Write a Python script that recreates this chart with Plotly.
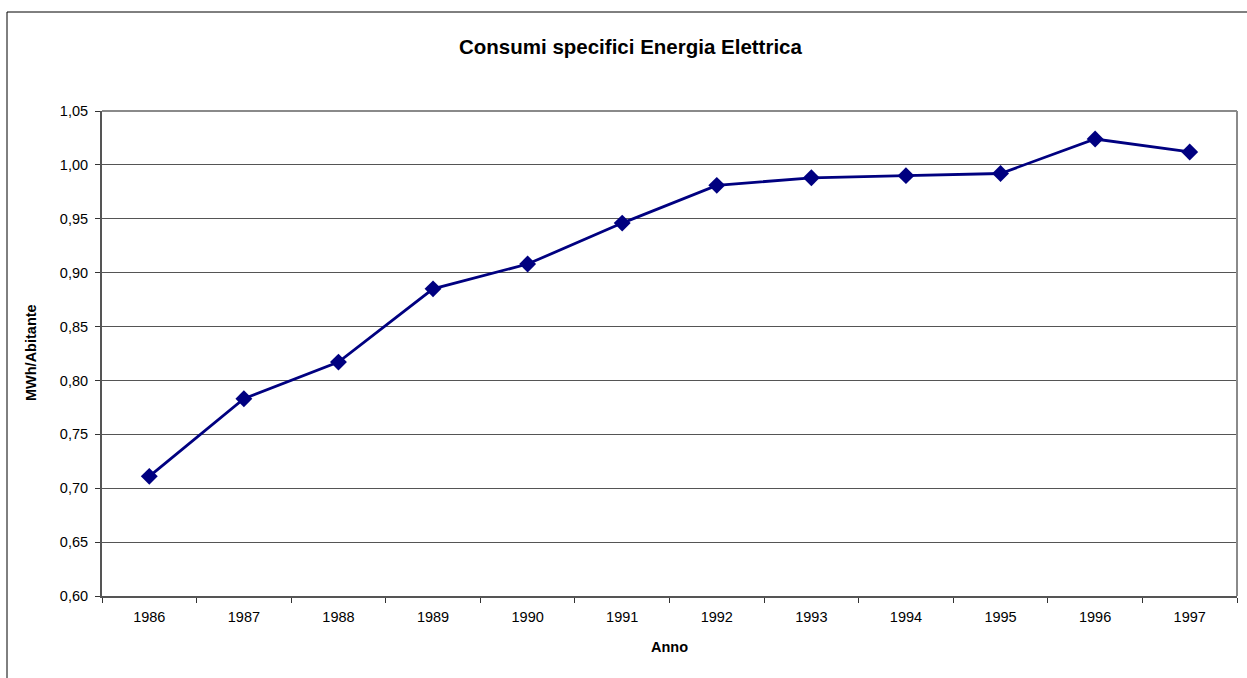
import plotly.graph_objects as go

# Annual specific electricity consumption (MWh per inhabitant)
anni = ["1986", "1987", "1988", "1989", "1990", "1991",
        "1992", "1993", "1994", "1995", "1996", "1997"]
consumi = [0.711, 0.783, 0.817, 0.885, 0.908, 0.946,
           0.981, 0.988, 0.990, 0.992, 1.024, 1.012]
y_ticks = [0.60, 0.65, 0.70, 0.75, 0.80, 0.85, 0.90, 0.95, 1.00, 1.05]

W, H = 1247, 678
L, R, T, B = 102, 10, 111, 82
pw, ph = W - L - R, H - T - B


def px(x):
    return (x - L) / pw


def py(y):
    return (H - B - y) / ph


FONT = "Liberation Sans, Arial, sans-serif"

fig = go.Figure()
fig.add_trace(go.Scatter(
    x=anni, y=consumi, mode="lines+markers",
    line=dict(color="#000080", width=2.8),
    marker=dict(symbol="diamond", size=13, color="#000080"),
    hoverinfo="x+y", showlegend=False,
))

fig.update_layout(
    width=W, height=H,
    margin=dict(l=L, r=R, t=T, b=B),
    paper_bgcolor="white", plot_bgcolor="white",
    separators=",.",
    font=dict(family=FONT, size=14.5, color="black"),
    xaxis=dict(
        type="category", tickson="boundaries", ticks="outside",
        ticklen=5, tickwidth=1, tickcolor="#333",
        ticklabelstandoff=7,
        showline=True, linecolor="#555", linewidth=2,
        showgrid=False, zeroline=False,
        tickfont=dict(family=FONT, size=14.5, color="black"),
        range=[-0.5, 11.5],
    ),
    yaxis=dict(
        range=[0.60, 1.05], tickvals=y_ticks, tickformat=".2f",
        ticks="outside", ticklen=5, tickwidth=1, tickcolor="#333",
        ticklabelstandoff=4,
        showline=True, linecolor="#555", linewidth=2,
        showgrid=True, gridcolor="#555", gridwidth=1,
        zeroline=False,
        tickfont=dict(family=FONT, size=14.5, color="black"),
    ),
    shapes=[
        # plot area border (top and right)
        dict(type="line", xref="paper", yref="paper", x0=0, x1=1, y0=1, y1=1,
             line=dict(color="#8a8a8a", width=2)),
        dict(type="line", xref="paper", yref="paper", x0=1, x1=1, y0=0, y1=1,
             line=dict(color="#8a8a8a", width=2)),
        # outer chart frame
        dict(type="line", xref="paper", yref="paper",
             x0=px(7), x1=px(7), y0=py(12), y1=py(700),
             line=dict(color="black", width=1)),
        dict(type="line", xref="paper", yref="paper",
             x0=px(7), x1=px(1270), y0=py(12), y1=py(12),
             line=dict(color="black", width=1)),
    ],
    annotations=[
        dict(text="<b>Consumi specifici Energia Elettrica</b>",
             xref="paper", yref="paper", x=px(631), y=py(46),
             xanchor="center", yanchor="middle", showarrow=False,
             font=dict(family=FONT, size=20.5, color="black")),
        dict(text="<b>Anno</b>",
             xref="paper", yref="paper", x=px(669), y=py(647),
             xanchor="center", yanchor="middle", showarrow=False,
             font=dict(family=FONT, size=14.5, color="black")),
        dict(text="<b>MWh/Abitante</b>", textangle=-90,
             xref="paper", yref="paper", x=px(31), y=py(353),
             xanchor="center", yanchor="middle", showarrow=False,
             font=dict(family=FONT, size=14.5, color="black")),
    ],
)

fig.write_html("out.html")
